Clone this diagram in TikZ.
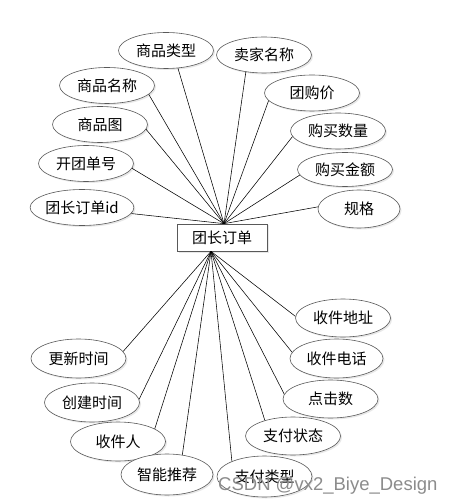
\documentclass[tikz,border=0pt]{standalone}
\usepackage{fontspec}
\setmainfont{Liberation Sans}
\newfontfamily\cjk{Noto Sans CJK SC}
\usetikzlibrary{shapes.geometric,shadows}
\tikzset{
  attr/.style={ellipse, draw=black!65, line width=0.6pt, fill=white,
    minimum width=95pt, minimum height=36pt, inner sep=0pt,
    font=\cjk\fontsize{15}{15}\selectfont,
    drop shadow={opacity=0.18, shadow xshift=1.5pt, shadow yshift=-1.5pt}},
  ent/.style={rectangle, draw=black!65, line width=0.7pt, fill=white,
    minimum width=90pt, minimum height=27pt, inner sep=0pt,
    font=\cjk\fontsize{15}{15}\selectfont,
    drop shadow={opacity=0.18, shadow xshift=1.5pt, shadow yshift=-1.5pt}},
  link/.style={draw=black, line width=0.55pt},
  wm/.style={font=\fontsize{18.5}{18.5}\selectfont, text=black!45, inner sep=0pt, anchor=base west}
}
\begin{document}
\begin{tikzpicture}[x=1pt,y=-1pt]
\useasboundingbox[fill=white] (0,0) rectangle (451,502);
\node[ent] (main) at (222,237.5) {团长订单};
\coordinate (ct) at ([xshift=2pt]main.north);
\coordinate (cb) at ([xshift=-11pt]main.south);
% top attributes
\node[attr] (a1) at (166,50.5) {商品类型};
\node[attr] (a2) at (264,55) {卖家名称};
\node[attr] (a3) at (107,85.5) {商品名称};
\node[attr] (a4) at (312,93) {团购价};
\node[attr] (a5) at (100,124.5) {商品图};
\node[attr] (a6) at (338,131) {购买数量};
\node[attr] (a7) at (86,163.5) {开团单号};
\node[attr, minimum height=34pt] (a8) at (345,169.5) {购买金额};
\node[attr] (a9) at (82,207.5) {团长订单id};
\node[attr, minimum width=82pt, minimum height=38pt] (a10) at (359,209) {规格};
% bottom attributes
\node[attr, minimum height=38pt] (b1) at (343,318) {收件地址};
\node[attr, minimum height=39pt] (b2) at (78.5,358.5) {更新时间};
\node[attr, minimum width=93pt, minimum height=39pt] (b3) at (336.5,358.5) {收件电话};
\node[attr, minimum height=39pt] (b4) at (92,402.5) {创建时间};
\node[attr, minimum height=38pt] (b5) at (330.5,399) {点击数};
\node[attr, minimum height=39pt] (b6) at (118,441.5) {收件人};
\node[attr, minimum height=38pt] (b7) at (293,436) {支付状态};
\node[attr, minimum width=92pt, minimum height=41pt] (b8) at (167,474.5) {智能推荐};
\node[attr, minimum height=41pt] (b9) at (264.5,476.5) {支付类型};
% connectors
\draw[link] (ct) -- (a1.-56);
\draw[link] (ct) -- (a2.-137);
\draw[link] (ct) -- (a3.-12);
\draw[link] (ct) -- (a4.-170);
\draw[link] (ct) -- (a5.-6);
\draw[link] (ct) -- (a6.-173);
\draw[link] (ct) -- (a7.-6);
\draw[link] (ct) -- (a8.-173);
\draw[link] (ct) -- (a9.-7);
\draw[link] (ct) -- (a10.177);
\draw[link] (cb) -- (b1.178);
\draw[link] (cb) -- (b2.9);
\draw[link] (cb) -- (b3.172);
\draw[link] (cb) -- (b4.4);
\draw[link] (cb) -- (b5.174);
\draw[link] (cb) -- (b6.19);
\draw[link] (cb) -- (b7.151);
\draw[link] (cb) -- (b8.52);
\draw[link] (cb) -- (b9.155);
% watermark
\node[wm] (wm) at (218,490) {CSDN @vx2\_Biye\_Design};
\end{tikzpicture}
\end{document}
